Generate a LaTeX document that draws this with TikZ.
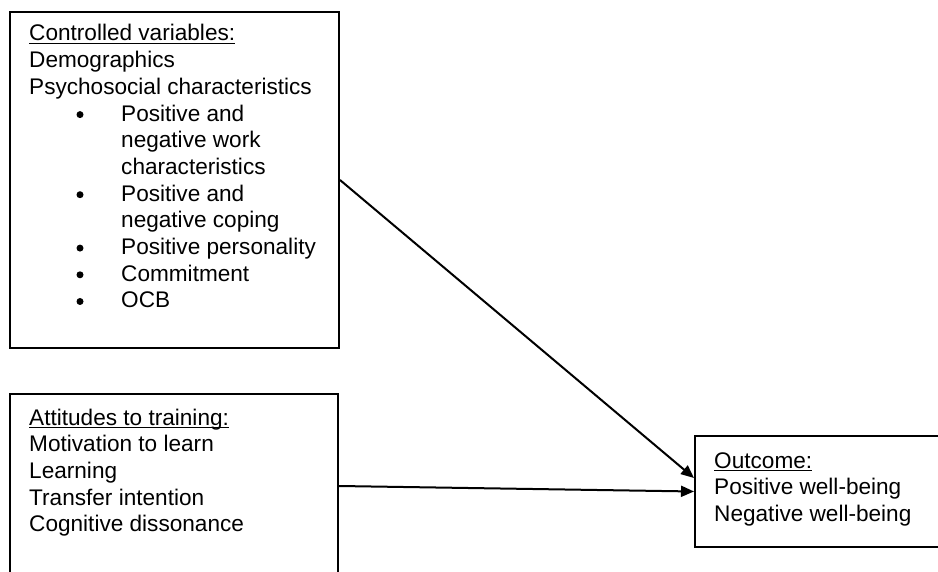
\documentclass[tikz,border=0pt]{standalone}
\usepackage{fontspec}
\setmainfont{Liberation Sans}
\usetikzlibrary{arrows.meta,calc}
\newlength\hdlen
\newcommand\hdline[1]{\settowidth\hdlen{#1}\makebox[0pt][l]{\rule[-3.4pt]{\hdlen}{1.5pt}}#1}
\begin{document}
\begin{tikzpicture}[x=1pt,y=-1pt,
  box/.style={draw,line width=2pt,rectangle,inner sep=0pt},
  txt/.style={anchor=base west,inner sep=0pt,font=\fontsize{22.6}{26.7}\selectfont},
  bul/.style={circle,fill,inner sep=0pt,minimum size=7pt},
  arr/.style={line width=2pt,-{Triangle[length=13pt,width=11pt]}}]
\useasboundingbox (0,0) rectangle (938,572);
\clip (0,0) rectangle (938,572);
% boxes
\node[box,minimum width=329pt,minimum height=336pt] (ctrl) at (174.5,180) {};
\node[box,minimum width=328pt,minimum height=184pt] (att) at (174,486) {};
\node[box,minimum width=265pt,minimum height=111pt] (out) at (827.5,491.5) {};
% top box text
\node[txt] (c0) at (29,41) {\hdline{Controlled variables:}};
\node[txt] (c1) at (29,67.7) {Demographics};
\node[txt] (c2) at (29,94.4) {Psychosocial characteristics};
\node[bul] (b3) at (80,114.6) {};
\node[txt] (c3) at (121,121.1) {Positive and};
\node[txt] (c4) at (121,147.8) {negative work};
\node[txt] (c5) at (121,174.5) {characteristics};
\node[bul] (b6) at (80,194.7) {};
\node[txt] (c6) at (121,201.2) {Positive and};
\node[txt] (c7) at (121,227.9) {negative coping};
\node[bul] (b8) at (80,248.1) {};
\node[txt] (c8) at (121,254.6) {Positive personality};
\node[bul] (b9) at (80,274.8) {};
\node[txt] (c9) at (121,281.3) {Commitment};
\node[bul] (b10) at (80,301.5) {};
\node[txt] (c10) at (121,308) {OCB};
% bottom box text
\node[txt] (a0) at (29,425) {\hdline{Attitudes to training:}};
\node[txt] (a1) at (29,451.7) {Motivation to learn};
\node[txt] (a2) at (29,478.4) {Learning};
\node[txt] (a3) at (29,505.1) {Transfer intention};
\node[txt] (a4) at (29,531.8) {Cognitive dissonance};
% outcome text
\node[txt] (o0) at (714,468) {\hdline{Outcome:}};
\node[txt] (o1) at (714,494.7) {Positive well-being};
\node[txt] (o2) at (714,521.4) {Negative well-being};
% arrows
\draw[arr] (ctrl.east) -- ($(out.west)+(0,-13.5)$);
\draw[arr] (att.east) -- (out.west);
\end{tikzpicture}
\end{document}
